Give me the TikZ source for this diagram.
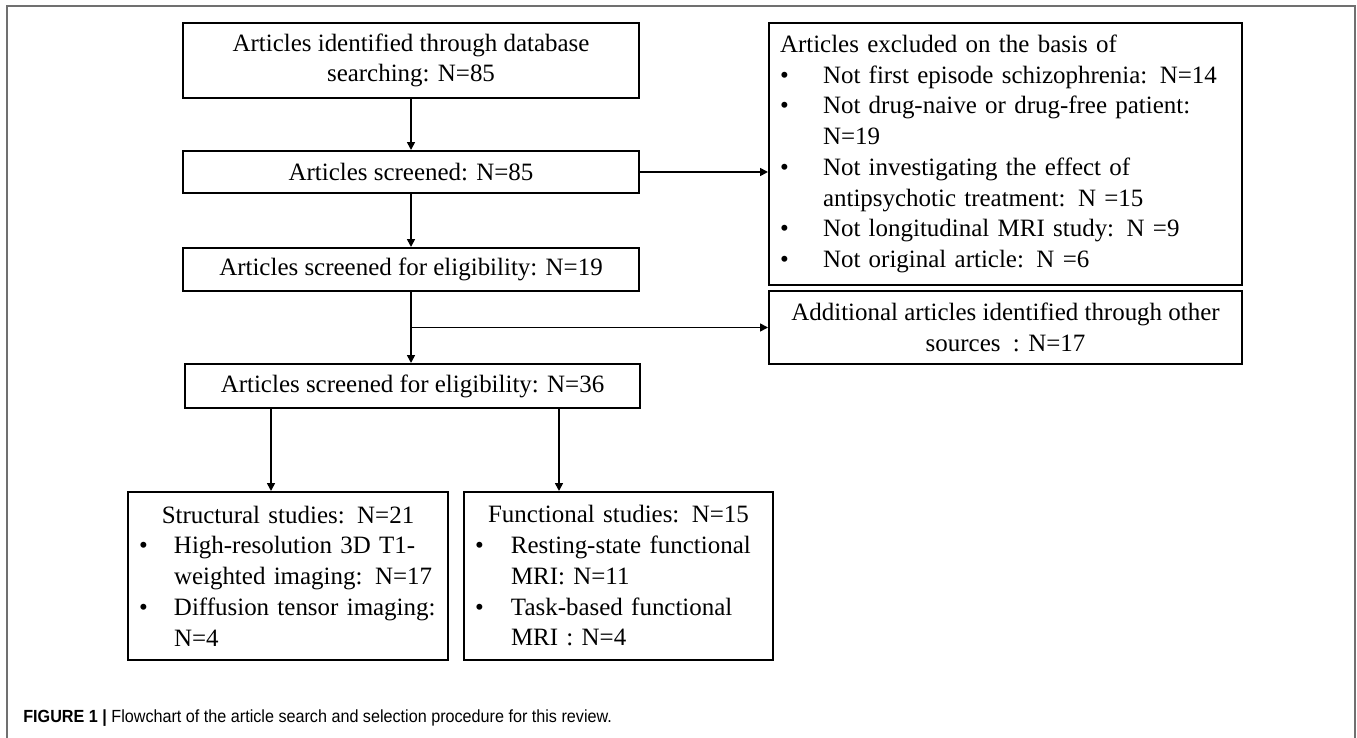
\documentclass[tikz,border=0pt]{standalone}
\usepackage{fontspec}
\setmainfont{Liberation Serif}
\newfontfamily\capfont[FakeStretch=0.92]{Liberation Sans}
\usepackage{xcolor}
\usepackage{tikz}
\usetikzlibrary{arrows.meta, positioning}

\definecolor{framegray}{HTML}{707070}
% bullet item with a fixed indent, and the indent alone for wrapped lines
\newcommand{\itm}[2][0.7cm]{\makebox[#1][l]{\textbullet}#2}
\newcommand{\cnt}[1][0.7cm]{\hspace*{#1}}

\begin{document}
\begin{tikzpicture}[
    >={Triangle[length=4.5pt,width=4.5pt]},
    every node/.style={inner sep=0pt},
    flowbox/.style={draw, line width=1.15pt, rectangle, align=center,
        font=\fontsize{14.2pt}{17.5pt}\selectfont},
    listbox/.style={flowbox, align=left, inner xsep=0.22cm},
    link/.style={->, line width=0.95pt},
    caption/.style={font=\capfont\fontsize{10pt}{12pt}\selectfont}
]
    \useasboundingbox (0,0) rectangle (27.14,-14.76);

    % --- FRAME ---
    \draw[framegray, line width=1.1pt] (0.146,-14.9) |- (27.1,-0.12) -- (27.1,-14.9);

    % --- MAIN COLUMN ---
    \node[flowbox, minimum width=9.12cm, minimum height=1.5cm] (ident) at (8.22,-1.21)
        {Articles identified through database\\searching: N=85};
    \node[flowbox, minimum width=9.12cm, minimum height=0.84cm] (screened) at (8.22,-3.44)
        {Articles screened: N=85};
    \node[flowbox, minimum width=9.12cm, minimum height=0.86cm] (elig19) at (8.22,-5.39)
        {Articles screened for eligibility: N=19};
    \node[flowbox, minimum width=9.10cm, minimum height=0.88cm] (elig36) at (8.25,-7.72)
        {Articles screened for eligibility: N=36};

    % --- SIDE BOXES ---
    \node[listbox, text width=9.02cm, minimum height=5.24cm] (excluded) at (20.11,-3.08)
        {Articles excluded on the basis of\\
         \itm[0.86cm]{Not first episode schizophrenia: N=14}\\
         \itm[0.86cm]{Not drug-naive or drug-free patient:}\\
         \cnt[0.86cm]N=19\\
         \itm[0.86cm]{Not investigating the effect of}\\
         \cnt[0.86cm]antipsychotic treatment: N =15\\
         \itm[0.86cm]{Not longitudinal MRI study: N =9}\\
         \itm[0.86cm]{Not original article: N =6}};
    \node[flowbox, minimum width=9.46cm, minimum height=1.46cm] (additional) at (20.11,-6.55)
        {Additional articles identified through other\\sources\ \ : N=17};

    % --- STUDY TYPES ---
    \node[listbox, text width=5.96cm, minimum height=3.36cm] (structural) at (5.76,-11.52)
        {\hfill Structural studies: N=21\hfill\null\\
         \itm{High-resolution 3D T1-}\\
         \cnt weighted imaging: N=17\\
         \itm{Diffusion tensor imaging:}\\
         \cnt N=4};
    \node[listbox, text width=5.74cm, minimum height=3.36cm] (functional) at (12.37,-11.52)
        {\hfill Functional studies: N=15\hfill\null\\
         \itm[0.72cm]{Resting-state functional}\\
         \cnt[0.72cm]MRI: N=11\\
         \itm[0.72cm]{Task-based functional}\\
         \cnt[0.72cm]MRI : N=4};

    % --- EDGES ---
    \draw[link] (ident) -- (screened);
    \draw[link] (screened) -- (elig19);
    \draw[link] (screened.east) -- (screened.east -| excluded.west);
    \draw[link] (elig19.south) -- (elig19.south |- elig36.north);
    \coordinate (branch) at (elig19.south |- additional.west);
    \draw[link] (branch) -- (additional.west);
    \coordinate (tapL) at (5.42,-7.72);
    \coordinate (tapR) at (11.18,-7.72);
    \draw[link] (tapL |- elig36.south) -- (tapL |- structural.north);
    \draw[link] (tapR |- elig36.south) -- (tapR |- functional.north);

    % --- CAPTION ---
    \node[caption, anchor=base west] (cap) at (0.46,-14.45)
        {\textbf{FIGURE 1} \textbf{|} Flowchart of the article search and selection procedure for this review.};

\end{tikzpicture}
\end{document}
